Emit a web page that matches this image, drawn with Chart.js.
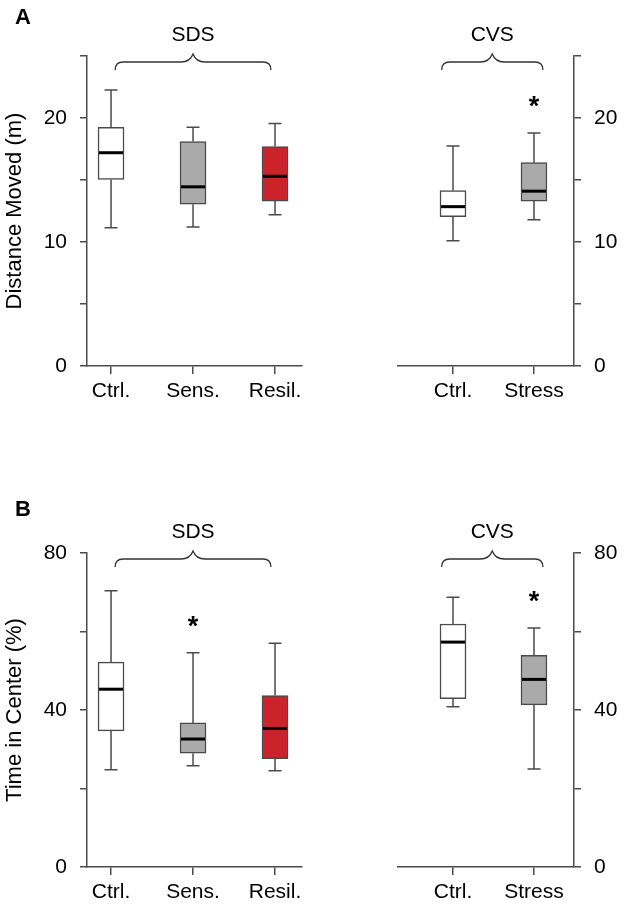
<!DOCTYPE html>
<html>
<head>
<meta charset="utf-8">
<script src="https://cdn.jsdelivr.net/npm/chart.js@4.4.0/dist/chart.umd.min.js"></script>
<style>
  body { margin: 0; background: #fff; }
  #wrap { position: relative; width: 625px; height: 910px; }
  canvas { position: absolute; }
</style>
</head>
<body>
<div id="wrap">
  <canvas id="aLeft" style="left:0;top:0;width:310px;height:455px"></canvas>
  <canvas id="aRight" style="left:310px;top:0;width:315px;height:455px"></canvas>
  <canvas id="bLeft" style="left:0;top:455px;width:310px;height:455px"></canvas>
  <canvas id="bRight" style="left:310px;top:455px;width:315px;height:455px"></canvas>
</div>
<script>
// groups and colours
var sdsGroups = ['Ctrl.', 'Sens.', 'Resil.'];
var cvsGroups = ['Ctrl.', 'Stress'];
var sdsColors = ['#ffffff', '#aaaaaa', '#cc2229'];
var cvsColors = ['#ffffff', '#aaaaaa'];

// A - distance moved (m): whisker low, Q1, median, Q3, whisker high
var distSdsLow = [11.15, 11.2, 12.2];
var distSdsQ1 = [15.05, 13.05, 13.3];
var distSdsMed = [17.2, 14.45, 15.3];
var distSdsQ3 = [19.25, 18.1, 17.7];
var distSdsHigh = [22.25, 19.25, 19.55];
var distSdsSig = [false, false, false];

var distCvsLow = [10.1, 11.8];
var distCvsQ1 = [12.05, 13.3];
var distCvsMed = [12.85, 14.1];
var distCvsQ3 = [14.15, 16.4];
var distCvsHigh = [17.75, 18.8];
var distCvsSig = [false, true];

// B - time in center (%)
var timeSdsLow = [24.8, 25.8, 24.5];
var timeSdsQ1 = [34.7, 29.0, 27.6];
var timeSdsMed = [45.3, 32.6, 35.3];
var timeSdsQ3 = [52.2, 36.7, 43.7];
var timeSdsHigh = [70.4, 54.6, 57.0];
var timeSdsSig = [false, true, false];

var timeCvsLow = [40.8, 25.0];
var timeCvsQ1 = [42.9, 41.3];
var timeCvsMed = [57.3, 47.8];
var timeCvsQ3 = [61.9, 53.9];
var timeCvsHigh = [68.7, 60.9];
var timeCvsSig = [false, true];

// tick labels
var distTicks = [0, 10, 20];
var timeTicks = [0, 40, 80];

var FONT = "'Liberation Sans', Arial, sans-serif";
var LINE = '#4a4a4a';
Chart.defaults.font.family = FONT;
Chart.defaults.font.size = 21;
Chart.defaults.color = '#000';

// whiskers, medians, asterisks, brackets and panel letters
var boxExtras = {
    id: 'boxExtras',
    afterDatasetsDraw: function(chart, args, o) {
        var ctx = chart.ctx;
        var xs = chart.scales.x, ys = chart.scales.y;
        ctx.save();
        o.groups.forEach(function(g, i) {
            var cx = xs.getPixelForValue(i + 1);
            var pLow = ys.getPixelForValue(o.low[i]);
            var pQ1 = ys.getPixelForValue(o.q1[i]);
            var pQ3 = ys.getPixelForValue(o.q3[i]);
            var pHigh = ys.getPixelForValue(o.high[i]);
            var pMed = ys.getPixelForValue(o.med[i]);
            ctx.strokeStyle = LINE;
            ctx.lineWidth = 1.5;
            ctx.beginPath();
            ctx.moveTo(cx, pQ3); ctx.lineTo(cx, pHigh);
            ctx.moveTo(cx - 6.5, pHigh); ctx.lineTo(cx + 6.5, pHigh);
            ctx.moveTo(cx, pQ1); ctx.lineTo(cx, pLow);
            ctx.moveTo(cx - 6.5, pLow); ctx.lineTo(cx + 6.5, pLow);
            ctx.stroke();
            ctx.strokeStyle = '#000';
            ctx.lineWidth = 3;
            ctx.beginPath();
            ctx.moveTo(cx - 12, pMed); ctx.lineTo(cx + 12, pMed);
            ctx.stroke();
            if (o.sig[i]) {
                ctx.fillStyle = '#000';
                ctx.font = 'bold 27px ' + FONT;
                ctx.textAlign = 'center';
                ctx.textBaseline = 'alphabetic';
                ctx.fillText('*', cx, pHigh - 34 + 16);
            }
        });

        // curly bracket over the group
        var top = chart.chartArea.top + 6;
        var x0 = xs.getPixelForValue(o.bracketFrom);
        var x1 = xs.getPixelForValue(o.bracketTo);
        var xm = (x0 + x1) / 2;
        ctx.strokeStyle = '#333';
        ctx.lineWidth = 1.3;
        ctx.beginPath();
        ctx.moveTo(x0, top + 8);
        ctx.quadraticCurveTo(x0, top, x0 + 8, top);
        ctx.lineTo(xm - 12, top);
        ctx.quadraticCurveTo(xm - 3, top, xm, top - 8);
        ctx.quadraticCurveTo(xm + 3, top, xm + 12, top);
        ctx.lineTo(x1 - 8, top);
        ctx.quadraticCurveTo(x1, top, x1, top + 8);
        ctx.stroke();
        ctx.fillStyle = '#000';
        ctx.font = '21px ' + FONT;
        ctx.textAlign = 'center';
        ctx.textBaseline = 'alphabetic';
        ctx.fillText(o.bracketText, xm, chart.chartArea.top - 15.5);

        if (o.letter) {
            ctx.font = 'bold 22px ' + FONT;
            ctx.fillText(o.letter, 23, o.letterY);
        }
        ctx.restore();
    }
};

function makePanel(id, p) {
    var H = 455;
    var ctx = document.getElementById(id).getContext('2d');
    var isLeft = p.side === 'left';
    return new Chart(ctx, {
        type: 'bar',
        data: {
            datasets: [{
                data: p.groups.map(function(g, i) { return { x: i + 1, y: [p.q1[i], p.q3[i]] }; }),
                backgroundColor: p.colors,
                borderColor: LINE,
                borderWidth: 1.5,
                borderSkipped: false,
                barThickness: 26
            }]
        },
        options: {
            responsive: false,
            animation: false,
            events: [],
            layout: { padding: { top: p.padTop, left: isLeft ? 0 : 88, right: isLeft ? 8 : 0, bottom: 0 } },
            plugins: {
                legend: { display: false },
                tooltip: { enabled: false },
                boxExtras: {
                    groups: p.groups, low: p.low, q1: p.q1, med: p.med, q3: p.q3, high: p.high, sig: p.sig,
                    bracketFrom: p.bracketFrom, bracketTo: p.bracketTo, bracketText: p.bracketText,
                    letter: p.letter, letterY: p.letterY
                }
            },
            scales: {
                x: {
                    type: 'linear',
                    min: p.xMin,
                    max: p.xMax,
                    offset: false,
                    grid: { offset: false, drawOnChartArea: false, drawTicks: true, tickLength: 8, color: LINE, lineWidth: 1.5 },
                    border: { display: true, color: LINE, width: 1.5 },
                    afterBuildTicks: function(s) { s.ticks = p.groups.map(function(g, i) { return { value: i + 1 }; }); },
                    ticks: {
                        autoSkip: false,
                        maxRotation: 0,
                        padding: 5,
                        callback: function(v) { return p.groups[Math.round(v) - 1]; }
                    },
                    afterFit: function(s) { s.height = H - p.bottom; s.paddingLeft = 0; s.paddingRight = 0; }
                },
                y: {
                    position: p.side,
                    min: 0,
                    max: p.yMax,
                    grid: { drawOnChartArea: false, drawTicks: true, tickLength: 7, color: LINE, lineWidth: 1.5 },
                    border: { display: true, color: LINE, width: 1.5 },
                    afterBuildTicks: function(s) {
                        var t = [];
                        for (var v = 0; v <= p.yMax; v += p.yStep) t.push({ value: v });
                        s.ticks = t;
                    },
                    ticks: {
                        autoSkip: false,
                        padding: 13,
                        callback: function(v) { return p.yLabels.indexOf(v) >= 0 ? String(v) : ''; }
                    },
                    title: {
                        display: !!p.yTitle,
                        text: p.yTitle || '',
                        font: { size: 22 },
                        padding: { top: 2, bottom: 0 }
                    },
                    afterFit: function(s) { s.width = isLeft ? 87 : 51; s.paddingTop = 0; s.paddingBottom = 0; }
                }
            }
        },
        plugins: [boxExtras]
    });
}

var canvases = ['aLeft', 'aRight', 'bLeft', 'bRight'];
canvases.forEach(function(id) {
    var c = document.getElementById(id);
    c.width = parseInt(c.style.width);
    c.height = parseInt(c.style.height);
});

makePanel('aLeft', {
    side: 'left', groups: sdsGroups, colors: sdsColors,
    low: distSdsLow, q1: distSdsQ1, med: distSdsMed, q3: distSdsQ3, high: distSdsHigh, sig: distSdsSig,
    yMax: 25, yStep: 5, yLabels: distTicks, yTitle: 'Distance Moved (m)',
    xMin: 0.707, xMax: 3.329, padTop: 56, bottom: 366,
    bracketFrom: 1.05, bracketTo: 2.95, bracketText: 'SDS', letter: 'A', letterY: 24
});
makePanel('aRight', {
    side: 'right', groups: cvsGroups, colors: cvsColors,
    low: distCvsLow, q1: distCvsQ1, med: distCvsMed, q3: distCvsQ3, high: distCvsHigh, sig: distCvsSig,
    yMax: 25, yStep: 5, yLabels: distTicks,
    xMin: 0.321, xMax: 2.494, padTop: 56, bottom: 366,
    bracketFrom: 0.86, bracketTo: 2.11, bracketText: 'CVS'
});
makePanel('bLeft', {
    side: 'left', groups: sdsGroups, colors: sdsColors,
    low: timeSdsLow, q1: timeSdsQ1, med: timeSdsMed, q3: timeSdsQ3, high: timeSdsHigh, sig: timeSdsSig,
    yMax: 80, yStep: 20, yLabels: timeTicks, yTitle: 'Time in Center (%)',
    xMin: 0.707, xMax: 3.329, padTop: 98, bottom: 412,
    bracketFrom: 1.05, bracketTo: 2.95, bracketText: 'SDS', letter: 'B', letterY: 61
});
makePanel('bRight', {
    side: 'right', groups: cvsGroups, colors: cvsColors,
    low: timeCvsLow, q1: timeCvsQ1, med: timeCvsMed, q3: timeCvsQ3, high: timeCvsHigh, sig: timeCvsSig,
    yMax: 80, yStep: 20, yLabels: timeTicks,
    xMin: 0.321, xMax: 2.494, padTop: 98, bottom: 412,
    bracketFrom: 0.86, bracketTo: 2.11, bracketText: 'CVS'
});
</script>
</body>
</html>
